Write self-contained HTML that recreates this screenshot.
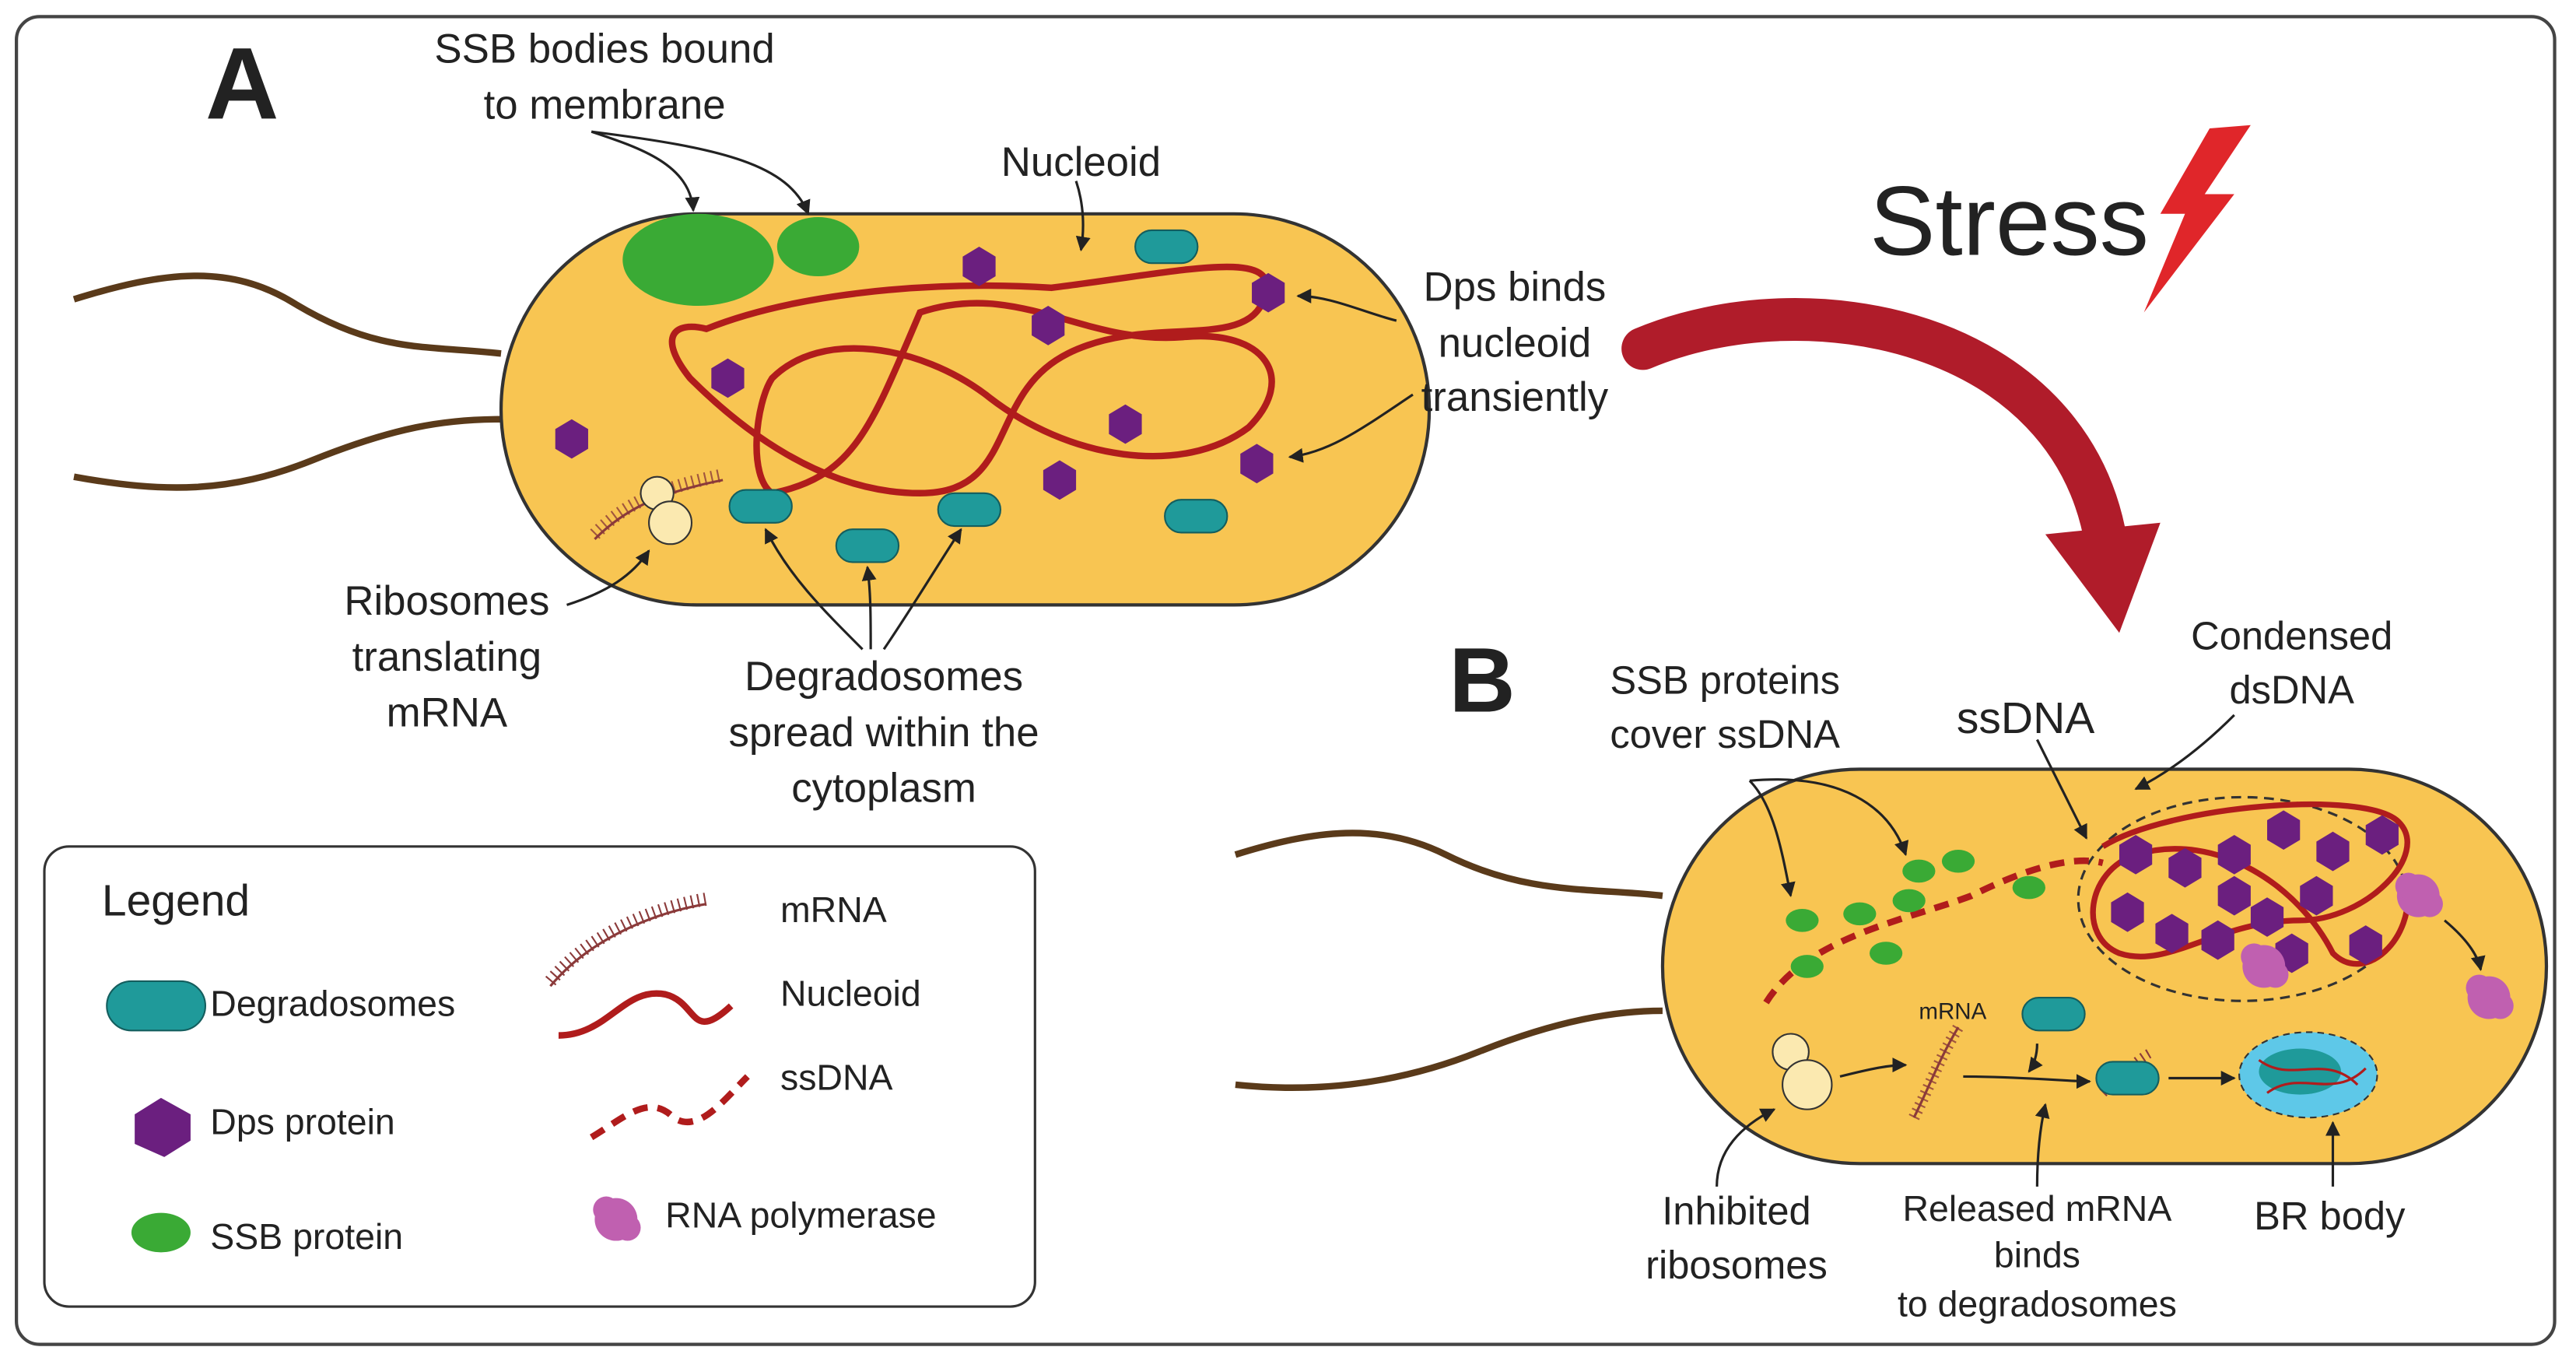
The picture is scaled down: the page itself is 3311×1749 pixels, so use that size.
<!DOCTYPE html>
<html><head><meta charset="utf-8"><style>
html,body{margin:0;padding:0;background:#fff;}
svg{display:block;}
text{font-family:"Liberation Sans",sans-serif;fill:#222;}
</style></head><body>
<svg width="3311" height="1749" viewBox="0 0 1568 828" xmlns="http://www.w3.org/2000/svg">
<defs>
<marker id="ar" viewBox="0 0 10 10" refX="9" refY="5" markerWidth="6" markerHeight="6" orient="auto"><path d="M0,0 L10,5 L0,10 z" fill="#222"/></marker>
<g id="hex"><polygon points="-10,-6 0,-12 10,-6 10,6 0,12 -10,6" fill="#6b1f7f"/></g>
<g id="deg"><rect x="-19" y="-10" width="38" height="20" rx="10" fill="#1f9a9a" stroke="#145e5e" stroke-width="1"/></g>
<g id="ssb"><ellipse rx="10" ry="7" fill="#3aaa35"/></g>
<g id="rnap"><circle r="13" fill="#c060b0"/><circle cx="-6" cy="-6" r="8" fill="#c060b0"/><circle cx="7" cy="5" r="8" fill="#c060b0"/></g>
</defs>
<rect x="10" y="10" width="1545" height="808" rx="14" fill="#fff" stroke="#444" stroke-width="2"/>
<text x="125" y="72" font-size="62" font-weight="bold">A</text>
<path d="M45,182 C100,165 140,160 180,185 C230,215 260,210 305,215" fill="none" stroke="#5a3a1a" stroke-width="4"/>
<path d="M45,290 C100,300 140,300 190,280 C240,260 270,255 305,255" fill="none" stroke="#5a3a1a" stroke-width="4"/>
<rect x="305" y="130" width="565" height="238" rx="119" fill="#f8c552" stroke="#333" stroke-width="2"/>
<ellipse cx="425" cy="158" rx="46" ry="28" fill="#3aaa35"/>
<ellipse cx="498" cy="150" rx="25" ry="18" fill="#3aaa35"/>
<path d="M430,200 C480,180 560,170 640,175 C720,165 780,150 770,180 C760,215 700,190 650,215 C600,240 620,300 560,300 C500,300 450,260 420,230 C400,205 410,195 430,200 Z" fill="none" stroke="#b01c1c" stroke-width="4"/>
<path d="M470,230 C500,200 560,210 600,240 C650,280 720,290 760,260 C790,230 770,200 720,205 C660,210 620,170 560,190 C530,260 520,290 470,300 C455,290 460,245 470,230 Z" fill="none" stroke="#b01c1c" stroke-width="4"/>
<use href="#hex" x="596" y="162"/><use href="#hex" x="638" y="198"/><use href="#hex" x="772" y="178"/><use href="#hex" x="443" y="230"/><use href="#hex" x="685" y="258"/><use href="#hex" x="765" y="282"/><use href="#hex" x="645" y="292"/><use href="#hex" x="348" y="267"/>
<use href="#deg" x="710" y="150"/><use href="#deg" x="463" y="308"/><use href="#deg" x="528" y="332"/><use href="#deg" x="590" y="310"/><use href="#deg" x="728" y="314"/>
<path d="M362,328 C380,310 400,300 440,292" fill="none" stroke="#8b3a3a" stroke-width="1.5"/>
<path d="M362,328 C380,310 400,300 440,292" fill="none" stroke="#8b3a3a" stroke-width="8" stroke-dasharray="1 3" transform="translate(0,-3)" opacity="0.8"/>
<circle cx="400" cy="300" r="10" fill="#fbe9b0" stroke="#333"/><circle cx="408" cy="318" r="13" fill="#fbe9b0" stroke="#333"/>
<g font-size="25" text-anchor="middle">
<text x="368" y="38">SSB bodies bound</text><text x="368" y="72">to membrane</text>
<text x="658" y="107">Nucleoid</text>
<text x="922" y="183">Dps binds</text><text x="922" y="217">nucleoid</text><text x="922" y="250">transiently</text>
<text x="272" y="374">Ribosomes</text><text x="272" y="408">translating</text><text x="272" y="442">mRNA</text>
<text x="538" y="420">Degradosomes</text><text x="538" y="454">spread within the</text><text x="538" y="488">cytoplasm</text>
</g>
<g fill="none" stroke="#222" stroke-width="1.5" marker-end="url(#ar)">
<path d="M360,80 C390,90 420,100 422,128"/><path d="M360,80 C440,90 480,100 492,130"/>
<path d="M655,110 C660,125 660,140 658,152"/>
<path d="M850,195 C830,190 810,180 790,180"/><path d="M860,240 C830,260 810,275 785,278"/>
<path d="M345,368 C370,360 385,350 395,335"/>
<path d="M525,395 C500,370 480,350 466,322"/><path d="M530,395 C530,375 530,360 528,345"/><path d="M538,395 C555,370 570,345 585,322"/>
</g>
<text x="1138" y="155" font-size="60">Stress</text>
<polygon points="1345,78 1370,76 1342,118 1360,118 1305,190 1330,130 1315,130" fill="#e0262a"/>
<path d="M1000,212 C1100,170 1260,200 1282,330" fill="none" stroke="#b01c2a" stroke-width="26" stroke-linecap="round"/>
<polygon points="1245,325 1315,318 1290,385" fill="#b01c2a"/>
<text x="882" y="433" font-size="56" font-weight="bold">B</text>
<path d="M752,520 C800,505 840,500 880,520 C930,545 970,540 1012,545" fill="none" stroke="#5a3a1a" stroke-width="4"/>
<path d="M752,660 C800,665 850,660 900,640 C950,620 985,615 1012,615" fill="none" stroke="#5a3a1a" stroke-width="4"/>
<rect x="1012" y="468" width="538" height="240" rx="120" fill="#f8c552" stroke="#333" stroke-width="2"/>
<ellipse cx="1365" cy="547" rx="100" ry="62" fill="none" stroke="#333" stroke-width="1.5" stroke-dasharray="6 4"/>
<path d="M1075,610 C1100,570 1160,560 1200,545 C1230,530 1260,520 1280,525" fill="none" stroke="#b01c1c" stroke-width="4" stroke-dasharray="9 6"/>
<use href="#ssb" x="1097" y="560"/><use href="#ssb" x="1132" y="556"/><use href="#ssb" x="1162" y="548"/><use href="#ssb" x="1192" y="524"/><use href="#ssb" x="1235" y="540"/><use href="#ssb" x="1100" y="588"/><use href="#ssb" x="1148" y="580"/><use href="#ssb" x="1168" y="530"/>
<path d="M1280,515 C1320,490 1440,480 1460,500 C1480,520 1440,560 1400,560 C1350,560 1320,590 1290,580 C1265,570 1270,530 1300,520 C1350,505 1400,540 1420,580 C1440,600 1470,570 1465,540" fill="none" stroke="#b01c1c" stroke-width="3.5"/>
<use href="#hex" x="1300" y="520"/><use href="#hex" x="1330" y="528"/><use href="#hex" x="1360" y="520"/><use href="#hex" x="1390" y="505"/><use href="#hex" x="1420" y="518"/><use href="#hex" x="1450" y="508"/><use href="#hex" x="1295" y="555"/><use href="#hex" x="1322" y="568"/><use href="#hex" x="1350" y="572"/><use href="#hex" x="1380" y="558"/><use href="#hex" x="1410" y="545"/><use href="#hex" x="1440" y="575"/><use href="#hex" x="1395" y="580"/><use href="#hex" x="1360" y="545"/>
<use href="#rnap" x="1472" y="545"/><use href="#rnap" x="1378" y="588"/><use href="#rnap" x="1515" y="607"/>
<path d="M1488,560 C1500,570 1508,580 1510,590" fill="none" stroke="#222" stroke-width="1.5" marker-end="url(#ar)"/>
<circle cx="1090" cy="640" r="11" fill="#fbe9b0" stroke="#333"/><circle cx="1100" cy="660" r="15" fill="#fbe9b0" stroke="#333"/>
<path d="M1165,680 C1175,660 1180,645 1192,625" fill="none" stroke="#8b3a3a" stroke-width="1.5"/>
<path d="M1165,680 C1175,660 1180,645 1192,625" fill="none" stroke="#8b3a3a" stroke-width="7" stroke-dasharray="1 3" opacity="0.8"/>
<text x="1168" y="620" font-size="14">mRNA</text>
<use href="#deg" x="1250" y="617"/>
<path d="M1280,665 C1290,655 1300,645 1310,640" fill="none" stroke="#8b3a3a" stroke-width="6" stroke-dasharray="1 3"/>
<use href="#deg" x="1295" y="656"/>
<ellipse cx="1405" cy="654" rx="42" ry="26" fill="#5ec8e8" stroke="#333" stroke-dasharray="4 3"/>
<ellipse cx="1400" cy="652" rx="25" ry="14" fill="#1f9a9a"/>
<path d="M1375,645 C1395,660 1415,640 1435,660 M1380,665 C1400,650 1420,670 1440,650" fill="none" stroke="#b01c1c" stroke-width="1.5"/>
<g fill="none" stroke="#222" stroke-width="1.5" marker-end="url(#ar)">
<path d="M1120,655 C1140,650 1150,648 1160,648"/><path d="M1195,655 C1230,655 1260,658 1272,658"/>
<path d="M1320,656 L1360,656"/><path d="M1240,635 C1240,642 1238,648 1235,652"/>
<path d="M1065,475 C1080,490 1085,520 1090,545"/><path d="M1065,475 C1120,470 1150,490 1160,520"/>
<path d="M1240,450 C1250,470 1260,490 1270,510"/><path d="M1360,435 C1340,455 1320,470 1300,480"/>
<path d="M1045,722 C1045,700 1060,685 1080,675"/><path d="M1240,722 C1240,700 1242,685 1245,672"/><path d="M1420,722 C1420,705 1420,695 1420,683"/>
</g>
<g font-size="24" text-anchor="middle">
<text x="1050" y="422">SSB proteins</text><text x="1050" y="455">cover ssDNA</text>
<text x="1233" y="446" font-size="27">ssDNA</text>
<text x="1395" y="395">Condensed</text><text x="1395" y="428">dsDNA</text>
<text x="1057" y="745">Inhibited</text><text x="1057" y="778">ribosomes</text>
<text x="1240" y="743" font-size="22">Released mRNA</text><text x="1240" y="771" font-size="22">binds</text><text x="1240" y="801" font-size="22">to degradosomes</text>
<text x="1418" y="748">BR body</text>
</g>
<rect x="27" y="515" width="603" height="280" rx="15" fill="#fff" stroke="#333" stroke-width="1.5"/>
<g font-size="22">
<text x="62" y="557" font-size="27">Legend</text>
<text x="128" y="618">Degradosomes</text>
<text x="128" y="690">Dps protein</text>
<text x="128" y="760">SSB protein</text>
<text x="475" y="561">mRNA</text>
<text x="475" y="612">Nucleoid</text>
<text x="475" y="663">ssDNA</text>
<text x="405" y="747">RNA polymerase</text>
</g>
<rect x="65" y="597" width="60" height="30" rx="15" fill="#1f9a9a" stroke="#145e5e"/>
<polygon points="82,678 98,668 116,678 116,694 100,704 82,696" fill="#6b1f7f"/>
<ellipse cx="98" cy="750" rx="18" ry="12" fill="#3aaa35"/>
<path d="M335,600 C360,570 400,555 430,550" fill="none" stroke="#8b3a3a" stroke-width="1.5"/>
<path d="M335,600 C360,570 400,555 430,550" fill="none" stroke="#8b3a3a" stroke-width="8" stroke-dasharray="1 3" transform="translate(0,-3)"/>
<path d="M340,630 C370,630 380,600 405,605 C425,610 420,635 445,612" fill="none" stroke="#b01c1c" stroke-width="4"/>
<path d="M360,692 C380,680 395,665 410,680 C425,690 440,670 455,655" fill="none" stroke="#b01c1c" stroke-width="4" stroke-dasharray="9 6"/>
<use href="#rnap" x="375" y="742"/>
</svg>
</body></html>
